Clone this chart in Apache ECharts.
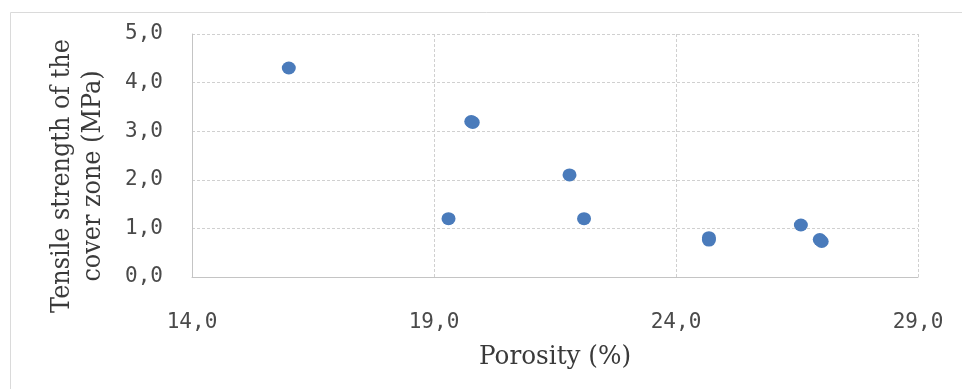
<!DOCTYPE html>
<html>
<head>
<meta charset="utf-8">
<script src="https://cdn.jsdelivr.net/npm/echarts@6/dist/echarts.min.js"></script>
<style>
  html, body { margin: 0; padding: 0; background: #ffffff; }
  #chart { width: 962px; height: 389px; }
</style>
</head>
<body>
<div id="chart"></div>
<script>
// Porosity (%) of each specimen
const porosity = [16.0, 19.77, 19.8, 19.3, 21.8, 22.1, 24.68, 24.68, 26.58, 26.97, 27.01];
// Tensile strength of the cover zone (MPa)
const strength = [4.3, 3.2, 3.18, 1.2, 2.1, 1.2, 0.81, 0.76, 1.07, 0.77, 0.73];

const xTitle = 'Porosity (%)';
const yTitle = 'Tensile strength of the\ncover zone (MPa)';

const points = porosity.map((p, i) => [p, strength[i]]);
const commaFmt = v => v.toFixed(1).replace('.', ',');

const labelStyle = {
  fontFamily: 'DejaVu Sans Mono',
  fontSize: 21,
  color: '#4a4a4a'
};
const gridLine = { show: true, lineStyle: { color: '#d0d0d0', type: [3, 2], width: 1 } };
const axisLine = { show: true, lineStyle: { color: '#c4c4c4', width: 1 } };

const titleFont = {
  fontFamily: 'DejaVu Serif',
  fontSize: 26,
  fill: '#3a3a3a',
  align: 'center',
  verticalAlign: 'middle'
};

const chart = echarts.init(document.getElementById('chart'), null, { renderer: 'canvas' });
chart.setOption({
  animation: false,
  backgroundColor: '#ffffff',
  grid: { left: 192, top: 34, right: 44, bottom: 112, containLabel: false },
  xAxis: {
    type: 'value',
    min: 14, max: 29, interval: 5,
    axisLine: axisLine,
    axisTick: { show: false },
    splitLine: gridLine,
    axisLabel: Object.assign({ margin: 35, formatter: commaFmt }, labelStyle)
  },
  yAxis: {
    type: 'value',
    min: 0, max: 5, interval: 1,
    axisLine: axisLine,
    axisTick: { show: false },
    splitLine: gridLine,
    axisLabel: Object.assign({ margin: 29, formatter: commaFmt }, labelStyle)
  },
  graphic: [
    {
      type: 'rect', silent: true, z: -10,
      shape: { x: 10.5, y: 12.5, width: 1000, height: 500 },
      style: { fill: null, stroke: '#dadada', lineWidth: 1 }
    },
    {
      type: 'text', x: 555, y: 357, scaleX: 0.95,
      style: Object.assign({ text: xTitle }, titleFont)
    },
    {
      type: 'text', x: 78, y: 176, rotation: Math.PI / 2, scaleX: 0.92,
      style: Object.assign({ text: yTitle, lineHeight: 31 }, titleFont)
    }
  ],
  series: [{
    type: 'scatter',
    data: points,
    symbol: 'circle',
    symbolSize: [14, 13],
    itemStyle: { color: '#4a7bbb', opacity: 1 }
  }]
});
</script>
</body>
</html>
